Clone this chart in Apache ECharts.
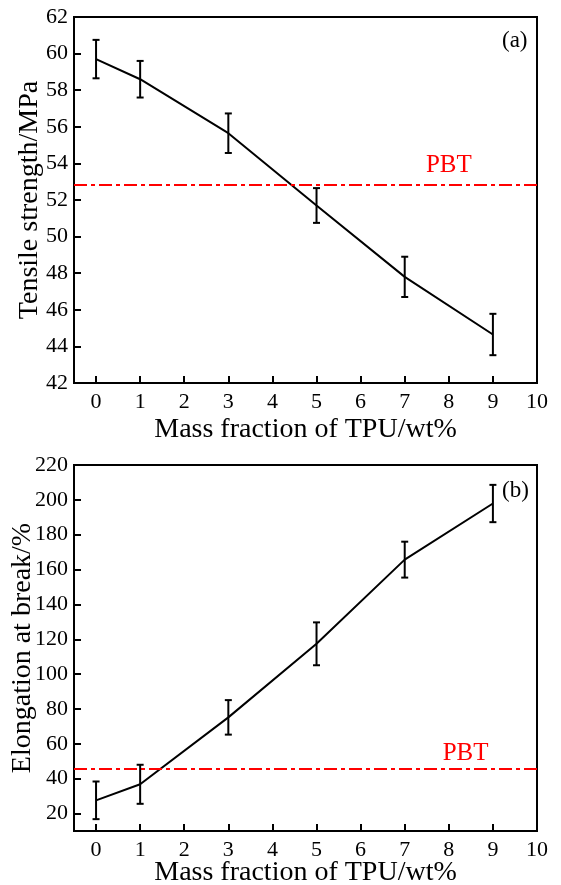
<!DOCTYPE html>
<html><head><meta charset="utf-8">
<script src="https://cdn.jsdelivr.net/npm/echarts@6/dist/echarts.min.js"></script>
<style>html,body{margin:0;padding:0;background:#fff}#c{width:561px;height:885px}</style>
</head><body><div id="c"></div>
<script>
const tpu = [0, 1, 3, 5, 7, 9];
const tensile = [59.7, 58.6, 55.65, 51.7, 47.8, 44.65];
const tensileErr = [1.05, 1.0, 1.08, 0.95, 1.1, 1.13];
const elong = [27.6, 36.8, 75.2, 117.4, 165.7, 197.9];
const elongErr = [10.8, 11.2, 9.9, 12.3, 10.3, 10.7];
const pbtTensile = 52.85;
const pbtElong = 45.5;
const xTicks = [0,1,2,3,4,5,6,7,8,9,10];
const yTicksTop = [42,44,46,48,50,52,54,56,58,60,62];
const yTicksBot = [20,40,60,80,100,120,140,160,180,200,220];

const FONT = 'Liberation Serif';
const chart = echarts.init(document.getElementById('c'), null, {renderer:'canvas'});

function xAxis(gi, gap){
  return {
    type:'value', gridIndex:gi, min:-0.5, max:10,
    name:'Mass fraction of TPU/wt%', nameLocation:'middle', nameGap:gap, nameMoveOverlap:false,
    nameTextStyle:{fontFamily:FONT, fontSize:28, color:'#000'},
    axisLine:{show:true, onZero:false, lineStyle:{color:'#000', width:2}},
    axisTick:{show:true, inside:true, length:7, customValues:xTicks, lineStyle:{color:'#000', width:2}},
    axisLabel:{customValues:xTicks, fontFamily:FONT, fontSize:22, color:'#000', margin:8},
    splitLine:{show:false}
  };
}
function yAxis(gi, min, max, ticks, name, gap){
  return {
    type:'value', gridIndex:gi, min:min, max:max,
    name:name, nameLocation:'middle', nameGap:gap, nameMoveOverlap:false,
    nameTextStyle:{fontFamily:FONT, fontSize:28, color:'#000'},
    axisLine:{show:true, onZero:false, lineStyle:{color:'#000', width:2}},
    axisTick:{show:true, inside:true, length:7, customValues:ticks, lineStyle:{color:'#000', width:2}},
    axisLabel:{customValues:ticks, fontFamily:FONT, fontSize:22, color:'#000', margin:6},
    splitLine:{show:false}
  };
}
function errSeries(xi, yi, vals, errs){
  return {
    type:'custom', xAxisIndex:xi, yAxisIndex:yi, z:5,
    data: tpu.map((x,i)=>[x, vals[i]-errs[i], vals[i]+errs[i]]),
    renderItem:function(params, api){
      const lo = api.coord([api.value(0), api.value(1)]);
      const hi = api.coord([api.value(0), api.value(2)]);
      const w = 3.5;
      const st = {stroke:'#000', lineWidth:2};
      return {type:'group', children:[
        {type:'line', shape:{x1:lo[0], y1:lo[1], x2:hi[0], y2:hi[1]}, style:st},
        {type:'line', shape:{x1:lo[0]-w, y1:lo[1], x2:lo[0]+w, y2:lo[1]}, style:st},
        {type:'line', shape:{x1:hi[0]-w, y1:hi[1], x2:hi[0]+w, y2:hi[1]}, style:st}
      ]};
    }
  };
}
function lineSeries(xi, yi, vals, pbt, labelX, off){
  return {
    type:'line', xAxisIndex:xi, yAxisIndex:yi, z:4,
    data: tpu.map((x,i)=>[x, vals[i]]),
    showSymbol:false, symbol:'none',
    lineStyle:{color:'#000', width:2},
    markLine:{
      silent:true, symbol:'none', animation:false,
      label:{show:false},
      lineStyle:{color:'#ff0000', width:2, type:[13,4,4,4]},
      data:[{yAxis:pbt}]
    },
    markPoint:{
      symbol:'circle', symbolSize:1, animation:false, silent:true,
      itemStyle:{color:'rgba(0,0,0,0)'},
      data:[{coord:[labelX, pbt]}],
      label:{show:true, position:'inside', formatter:'PBT', color:'#ff0000', fontFamily:FONT, fontSize:25, offset:[0,off]}
    }
  };
}

chart.setOption({
  animation:false,
  backgroundColor:'#fff',
  grid:[
    {left:74, top:17, width:463, height:366, show:true, borderColor:'#000', borderWidth:2, containLabel:false, outerBoundsMode:'none'},
    {left:74, top:465, width:463, height:366, show:true, borderColor:'#000', borderWidth:2, containLabel:false, outerBoundsMode:'none'}
  ],
  xAxis:[xAxis(0, 33), xAxis(1, 28)],
  yAxis:[
    yAxis(0, 42, 62, yTicksTop, 'Tensile strength/MPa', 30),
    yAxis(1, 10, 220, yTicksBot, 'Elongation at break/%', 37)
  ],
  series:[
    lineSeries(0,0,tensile,pbtTensile,8.0,-19),
    errSeries(0,0,tensile,tensileErr),
    lineSeries(1,1,elong,pbtElong,8.38,-15.5),
    errSeries(1,1,elong,elongErr)
  ],
  graphic:[
    {type:'text', left:502, top:29, style:{text:'(a)', fontSize:23, fontFamily:FONT, fill:'#000'}},
    {type:'text', left:502, top:479, style:{text:'(b)', fontSize:23, fontFamily:FONT, fill:'#000'}}
  ]
});
</script></body></html>
